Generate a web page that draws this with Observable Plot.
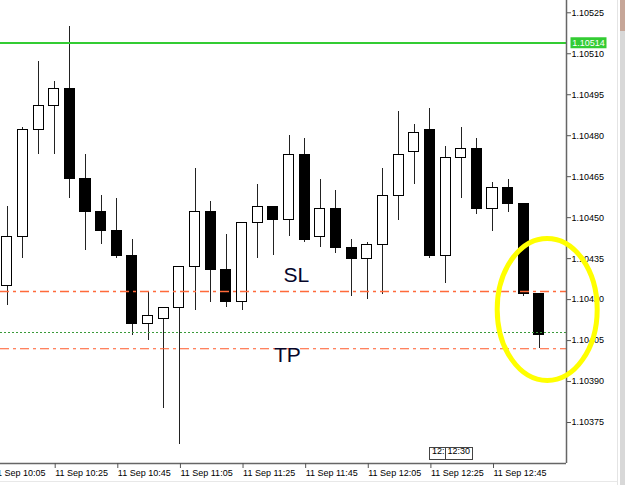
<!DOCTYPE html>
<html><head><meta charset="utf-8">
<style>
html,body{margin:0;padding:0;background:#fff;}
#wrap{position:relative;width:636px;height:485px;overflow:hidden;background:#fff;}
.chrome{position:absolute;}
</style>
<script src="https://cdn.jsdelivr.net/npm/d3@7"></script>
<script src="https://cdn.jsdelivr.net/npm/@observablehq/plot@0.6"></script>
</head>
<body>
<div id="wrap">
  <div id="chart"></div>
  <div class="chrome" style="left:617px;top:0;width:1px;height:485px;background:#e4e4e4"></div>
  <div class="chrome" style="left:620px;top:0;width:5px;height:485px;background:#d8d8d8"></div>
  <div class="chrome" style="left:620px;top:0;width:5px;height:31px;background:#c6a698"></div>
  <div class="chrome" style="left:0;top:481px;width:617px;height:1px;background:#e8e8e8"></div>
</div>
<script>
// ---- data (EURUSD M5, 11 Sep) ----
const times = ["10:10","10:15","10:20","10:25","10:30","10:35","10:40","10:45","10:50","10:55",
  "11:00","11:05","11:10","11:15","11:20","11:25","11:30","11:35","11:40","11:45",
  "11:50","11:55","12:00","12:05","12:10","12:15","12:20","12:25","12:30","12:35",
  "12:40","12:45","12:50","12:55","13:00"];
const open  = [1.10425,1.10443,1.10482,1.10491,1.10497,1.10464,1.10452,1.10445,1.10436,1.10411,
  1.10413,1.10417,1.10432,1.10452,1.10431,1.10419,1.10448,1.10454,1.10449,1.10473,
  1.10443,1.10453,1.10439,1.10435,1.10440,1.10458,1.10474,1.10482,1.10436,1.10472,
  1.10475,1.10453,1.10461,1.10455,1.10422];
const high  = [1.10454,1.10483,1.10507,1.10500,1.10520,1.10473,1.10458,1.10457,1.10442,1.10423,
  1.10417,1.10432,1.10468,1.10456,1.10444,1.10448,1.10462,1.10454,1.10480,1.10479,
  1.10464,1.10460,1.10442,1.10441,1.10468,1.10489,1.10484,1.10490,1.10476,1.10483,
  1.10479,1.10463,1.10464,1.10455,1.10422];
const low   = [1.10418,1.10435,1.10473,1.10473,1.10457,1.10438,1.10440,1.10435,1.10407,1.10405,
  1.10380,1.10367,1.10416,1.10419,1.10417,1.10416,1.10435,1.10436,1.10443,1.10441,
  1.10439,1.10437,1.10421,1.10420,1.10422,1.10449,1.10462,1.10435,1.10426,1.10457,
  1.10451,1.10445,1.10452,1.10421,1.10402];
const close = [1.10443,1.10482,1.10491,1.10497,1.10464,1.10452,1.10445,1.10436,1.10411,1.10414,
  1.10417,1.10432,1.10452,1.10431,1.10419,1.10448,1.10454,1.10449,1.10473,1.10442,
  1.10453,1.10439,1.10435,1.10440,1.10458,1.10473,1.10481,1.10436,1.10472,1.10475,
  1.10453,1.10461,1.10455,1.10422,1.10407];

const yTicks = [1.10375,1.10390,1.10405,1.10420,1.10435,1.10450,1.10465,1.10480,1.10495,1.10510,1.10525];
const xTickTimes  = ["10:05","10:25","10:45","11:05","11:25","11:45","12:05","12:25","12:45"];
const xTickLabels = ["11 Sep 10:05","11 Sep 10:25","11 Sep 10:45","11 Sep 11:05","11 Sep 11:25",
  "11 Sep 11:45","11 Sep 12:05","11 Sep 12:25","11 Sep 12:45"];

const bidPrice = 1.10514;       // green line
const slPrice = 1.10423;        // SL line
const tpPrice = 1.10402;        // TP line
const entryPrice = 1.10408;     // green dotted line
const noteLabels = ["SL","TP"];
const noteTimes  = ["11:42:20","11:39:30"];
const notePrices = [1.104288,1.103998];
const markerLabels = ["12:","12:30"];
const markerStart  = ["12:25","12:30"];
const markerEnd    = ["12:30","12:38:40"];
const circleTime = "13:02:28";
const circlePrice = 1.104164;

const xDomain = ["10:07:51","13:08:38"];
const yDomain = [1.10360, 1.105295];

// ---- build ----
const parse = s => new Date(`2019-09-11T${s.length === 5 ? s + ":00" : s}Z`);
const candles = times.map((t, i) => ({t: parse(t), o: open[i], h: high[i], l: low[i], c: close[i]}));
const half = 1.6 * 60000;
const tickLabelMap = new Map(xTickTimes.map((t, i) => [+parse(t), xTickLabels[i]]));
const notes = noteLabels.map((s, i) => ({s, t: parse(noteTimes[i]), p: notePrices[i]}));
const markers = markerLabels.map((s, i) => ({s, a: parse(markerStart[i]), b: parse(markerEnd[i])}));

const KAPPA = 0.5523, ERX = 50, ERY = 71;
const ellipseSymbol = {draw(ctx) {
  const a = ERX, b = ERY, k = KAPPA;
  ctx.moveTo(a, 0);
  ctx.bezierCurveTo(a, b * k, a * k, b, 0, b);
  ctx.bezierCurveTo(-a * k, b, -a, b * k, -a, 0);
  ctx.bezierCurveTo(-a, -b * k, -a * k, -b, 0, -b);
  ctx.bezierCurveTo(a * k, -b, a, -b * k, a, 0);
  ctx.closePath();
}};
const boxSymbol = {draw(ctx) {
  ctx.moveTo(-18, -5.5); ctx.lineTo(18, -5.5); ctx.lineTo(18, 5.5); ctx.lineTo(-18, 5.5); ctx.closePath();
}};

const crisp = {shapeRendering: "crispEdges"};

const chart = Plot.plot({
  width: 636, height: 485,
  marginLeft: 0, marginRight: 70, marginTop: 0, marginBottom: 22,
  style: {fontFamily: "'Liberation Sans', Arial, sans-serif", fontSize: "9px", background: "transparent", color: "black", overflow: "visible"},
  x: {type: "utc", domain: [parse(xDomain[0]), parse(xDomain[1])]},
  y: {domain: yDomain},
  marks: [
    Plot.ruleX(candles, {x: "t", y1: "l", y2: "h", stroke: "#222", strokeWidth: 1, ...crisp}),
    Plot.rect(candles, {
      x1: d => new Date(+d.t - half), x2: d => new Date(+d.t + half),
      y1: "o", y2: "c",
      fill: d => d.c >= d.o ? "white" : "black", stroke: "black", strokeWidth: 1, ...crisp
    }),
    Plot.ruleY([slPrice], {stroke: "#ff6a3a", strokeWidth: 1.5, strokeDasharray: "9,4,3,4"}),
    Plot.ruleY([tpPrice], {stroke: "#ff5a2a", strokeWidth: 1.2, strokeDasharray: "9,4,3,4"}),
    Plot.ruleY([entryPrice], {stroke: "#3a9a3a", strokeWidth: 1, strokeDasharray: "2,2", ...crisp}),
    Plot.ruleY([bidPrice], {stroke: "#33cc33", strokeWidth: 2, ...crisp}),
    Plot.text(notes, {x: "t", y: "p", text: "s", fontSize: 21, fill: "#06062a", textAnchor: "middle"}),
    Plot.rect(markers, {x1: "a", x2: "b", insetTop: 447, insetBottom: 4, fill: "white", stroke: "#444", strokeWidth: 1, ...crisp}),
    Plot.text(markers, {x: "a", text: "s", frameAnchor: "bottom", dy: -9.5, dx: 2, textAnchor: "start", fill: "black"}),
    Plot.ruleX([parse(xDomain[1])], {stroke: "#666", strokeWidth: 1.5}),
    Plot.ruleY([yDomain[0]], {stroke: "#666", strokeWidth: 1.5}),
    Plot.axisY({anchor: "right", ticks: yTicks, tickSize: 4, tickPadding: 1,
      tickFormat: d => d.toFixed(5), stroke: "#555", fill: "black"}),
    Plot.axisX({anchor: "bottom", ticks: xTickTimes.map(parse), tickSize: 5, tickPadding: 1,
      tickFormat: d => tickLabelMap.get(+d), textAnchor: "start", dx: 1, stroke: "#555", fill: "black"}),
    Plot.dot([bidPrice], {y: d => d, frameAnchor: "right", dx: 22, symbol: boxSymbol, fill: "#33cc33", stroke: "none"}),
    Plot.text([bidPrice], {y: d => d, text: d => d.toFixed(5), frameAnchor: "right", dx: 22, textAnchor: "middle", fill: "white"}),
    Plot.dot([{t: parse(circleTime), p: circlePrice}], {x: "t", y: "p", symbol: ellipseSymbol, stroke: "#ffff00", strokeWidth: 5, fill: "none"})
  ]
});
document.getElementById("chart").appendChild(chart);
</script>
</body></html>
